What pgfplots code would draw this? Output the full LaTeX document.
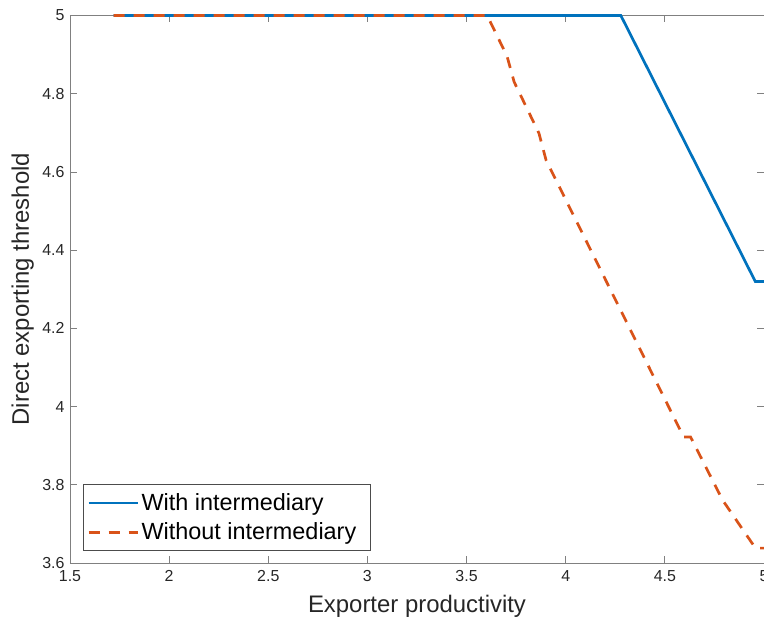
\documentclass[border=0pt]{standalone}
\usepackage{pgfplots}
\pgfplotsset{compat=1.18}
\usepackage{fontspec}
\setmainfont{Liberation Sans}
\definecolor{mblue}{rgb}{0,0.447,0.741}
\definecolor{morange}{rgb}{0.85,0.325,0.098}
\begin{document}
\begin{tikzpicture}
\begin{axis}[
  name=ax,
  scale only axis,
  width=694bp, height=547.5bp,
  xmin=1.5, xmax=5, ymin=3.6, ymax=5,
  xtick={1.5,2,2.5,3,3.5,4,4.5,5},
  ytick={3.6,3.8,4,4.2,4.4,4.6,4.8,5},
  yticklabels={3.6,3.8,4,4.2,4.4,4.6,4.8,5},
  xticklabels={1.5,2,2.5,3,3.5,4,4.5,5},
  tick align=inside,
  tick pos=both,
  major tick length=7bp,
  axis line style={draw=black!50, line width=0.8bp},
  every tick/.style={draw=black!50, line width=0.8bp},
  ticklabel style={font=\fontsize{16}{19}\selectfont, text=black!85},
  xticklabel style={yshift=-4bp},
  yticklabel style={xshift=-2bp},
  xlabel={Exporter productivity},
  ylabel={Direct exporting threshold},
  label style={font=\fontsize{24}{28}\selectfont, text=black!85},
  xlabel style={at={(axis description cs:0.5,-0.0913)}, anchor=base},
  ylabel style={at={(axis description cs:-0.0591,0.5)}, anchor=base},
  clip=false,
  legend style={
    at={(axis description cs:0.0187,0.0219)}, anchor=south west,
    draw=black!70, line width=0.8bp, fill=white,
    font=\fontsize{23.5}{28}\selectfont,
    inner xsep=4bp, inner ysep=6bp, row sep=5bp,
    nodes={inner sep=2.5bp, text depth=0.25em},
  },
  legend cell align=left,
  legend image code/.code={\draw[#1] (0bp,0bp) -- (49bp,0bp);},
]
\addplot[mblue, line width=2.7bp] coordinates {
  (1.72,5.000) (4.278,5.000) (4.956,4.320) (5.000,4.320)
};
\addlegendentry{With intermediary}
\addplot[morange, line width=2.7bp, dash pattern=on 11bp off 9bp] coordinates {
  (1.72,5.000) (3.604,5.000) (3.704,4.896) (3.740,4.830) (3.865,4.699)
  (3.901,4.630) (4.595,3.922) (4.630,3.922) (4.791,3.761) (4.957,3.638)
  (5.000,3.638)
};
\addlegendentry{Without intermediary\hspace*{8bp}}
\end{axis}
\pgfresetboundingbox
\path (ax.south west) +(-70bp,-58bp) (ax.north east) +(0bp,15.5bp);
\end{tikzpicture}
\end{document}
